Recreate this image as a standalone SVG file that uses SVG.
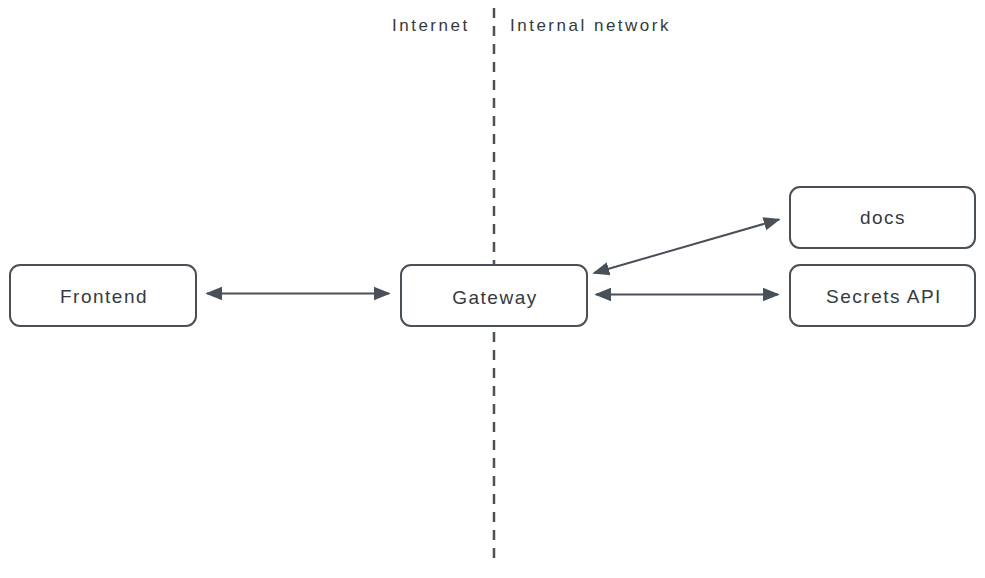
<svg xmlns="http://www.w3.org/2000/svg" width="985" height="578" viewBox="0 0 985 578">
<style>
.box{fill:#ffffff;stroke:#495057;stroke-width:2}
.lbl{font-family:"Liberation Sans","DejaVu Sans",sans-serif;font-size:19px;letter-spacing:1.5px;fill:#343a40;text-anchor:middle;dominant-baseline:central}
.top{font-family:"Liberation Sans","DejaVu Sans",sans-serif;font-size:17px;letter-spacing:2.5px;fill:#343a40;dominant-baseline:central}
.conn{stroke:#495057;stroke-width:2;fill:none;marker-start:url(#ah);marker-end:url(#ah)}
.dash{stroke:#495057;stroke-width:2.5;stroke-dasharray:10 8;fill:none}
</style>
<defs>
<marker id="ah" viewBox="0 0 10 10" refX="9" refY="5" markerWidth="8.5" markerHeight="8.5" orient="auto-start-reverse" markerUnits="strokeWidth">
<path d="M0,1 L10,5 L0,9 Z" fill="#495057"/>
</marker>
</defs>
<rect width="985" height="578" fill="#ffffff"/>
<g id="divider">
<line class="dash" x1="494" y1="8" x2="494" y2="565"/>
<text class="top" x="392" y="25">Internet</text>
<text class="top" x="510" y="25">Internal network</text>
</g>
<g id="connectors">
<line class="conn" x1="207" y1="293.5" x2="389" y2="293.5"/>
<line class="conn" x1="594" y1="273" x2="779" y2="219.5"/>
<line class="conn" x1="596" y1="294.5" x2="778" y2="294.5"/>
</g>
<g id="frontend">
<rect class="box" x="10" y="265" width="186" height="61" rx="10"/>
<text class="lbl" x="104" y="296">Frontend</text>
</g>
<g id="gateway">
<rect class="box" x="401" y="265" width="186" height="61" rx="10"/>
<text class="lbl" x="495" y="297">Gateway</text>
</g>
<g id="docs">
<rect class="box" x="790" y="187" width="185" height="61" rx="10"/>
<text class="lbl" x="883" y="217">docs</text>
</g>
<g id="secrets">
<rect class="box" x="790" y="265" width="185" height="61" rx="10"/>
<text class="lbl" x="884" y="296">Secrets API</text>
</g>
</svg>
